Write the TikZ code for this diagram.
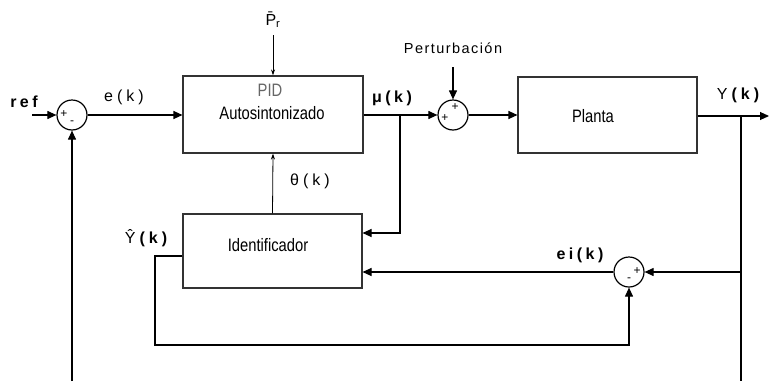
\documentclass[tikz,border=0pt]{standalone}
\usepackage{fontspec}
\setmainfont{Liberation Sans}
\usetikzlibrary{arrows.meta,calc}
\begin{document}
\begin{tikzpicture}[x=1pt,y=-1pt,
  blk/.style={draw=black!80,line width=1.1pt,inner sep=0pt},
  sumj/.style={circle,draw,line width=1.2pt,minimum size=30pt,inner sep=0pt},
  wire/.style={line width=1.1pt,-{Triangle[length=9pt,width=8pt]}},
  plain/.style={line width=1.1pt},
  thinarr/.style={line width=0.8pt,-{Stealth[length=6pt,width=4pt]}},
  lbl/.style={font=\fontsize{16}{18}\selectfont\addfontfeature{LetterSpace=25}},
  lblb/.style={font=\fontsize{16}{18}\selectfont\bfseries\addfontfeature{LetterSpace=22}},
  txt/.style={font=\fontsize{18}{22}\selectfont\addfontfeature{FakeStretch=0.82}},
  sgn/.style={font=\fontsize{12}{12}\selectfont,inner sep=0pt}]
\useasboundingbox (0,0) rectangle (769,381);
% blocks
\node[blk,minimum width=180pt,minimum height=77pt] (pid) at (273,114.5) {};
\node[txt,text=black!60] (pidt) at (270,90) {PID};
\node[txt] (autot) at (272,113) {Autosintonizado};
\node[blk,minimum width=179pt,minimum height=76pt] (planta) at (607.5,115) {};
\node[txt] (plantat) at (593,116) {Planta};
\node[blk,minimum width=179pt,minimum height=74pt] (ident) at (272.5,251) {};
\node[txt] (identt) at (268,245) {Identificador};
% summing junctions
\node[sumj] (s1) at (72,115) {};
\node[sgn] (s1a) at (64,114) {+};
\node[sgn] (s1b) at (72,123) {-};
\node[sumj] (s2) at (453,115) {};
\node[sgn] (s2a) at (455,107) {+};
\node[sgn] (s2b) at (445,118) {+};
\node[sumj] (s3) at (629,272) {};
\node[sgn] (s3a) at (637,271) {+};
\node[sgn] (s3b) at (629,280) {-};
% labels
\node[lblb] (refl) at (24,102) {ref};
\node[lbl] (ekl) at (124,97) {e(k)};
\node[lblb] (mul) at (392,98) {μ(k)};
\node[lbl] (thl) at (310,181) {θ(k)};
\node[lbl] (yl) at (740,95) {Y\textbf{(k)}};
\node[lblb] (eil) at (580,255) {ei(k)};
\node[lbl] (yhl) at (148,238) {Ŷ\textbf{(k)}};
\node[font=\fontsize{16}{18}\selectfont] (prl) at (273,20) {\={P}\textsubscript{r}};
\node[font=\fontsize{14.5}{16}\selectfont\addfontfeature{LetterSpace=10}] (pertl) at (453,48) {Perturbación};
% coordinates
\coordinate (refin) at (32,115);
\coordinate (fb1) at (72,381);
\coordinate (prtop) at (273,35);
\coordinate (perttop) at (453,67);
\coordinate (b1) at (400,115);
\coordinate (b2) at (741,116);
\coordinate (b3) at (741,272);
\coordinate (yout) at (769,116);
\coordinate (ybot) at (741,381);
\coordinate (yh1) at (155,256);
\coordinate (yh2) at (155,345);
% connectors
\draw[wire] (refin) -- (s1.west);
\draw[wire] (fb1) -- (s1.south);
\draw[wire] (s1.east) -- (pid.west |- s1.east);
\draw[thinarr] (prtop) -- (pid.north);
\draw[wire] (pid.east |- s2.west) -- (s2.west);
\draw[wire] (perttop) -- (s2.north);
\draw[wire] (s2.east) -- (planta.west |- s2.east);
\draw[wire] (planta.east |- b2) -- (yout);
\draw[plain] (b2) -- (ybot);
\draw[wire] (b3) -- (s3.east);
\draw[wire] (b1) |- ([yshift=18pt]ident.east);
\draw[wire] (s3.west) -- ([yshift=-21pt]ident.east);
\draw[thinarr] (ident.north) -- (pid.south);
\draw[wire] ([yshift=-5pt]ident.west) -- (yh1) -- (yh2) -| (s3.south);
\end{tikzpicture}
\end{document}
